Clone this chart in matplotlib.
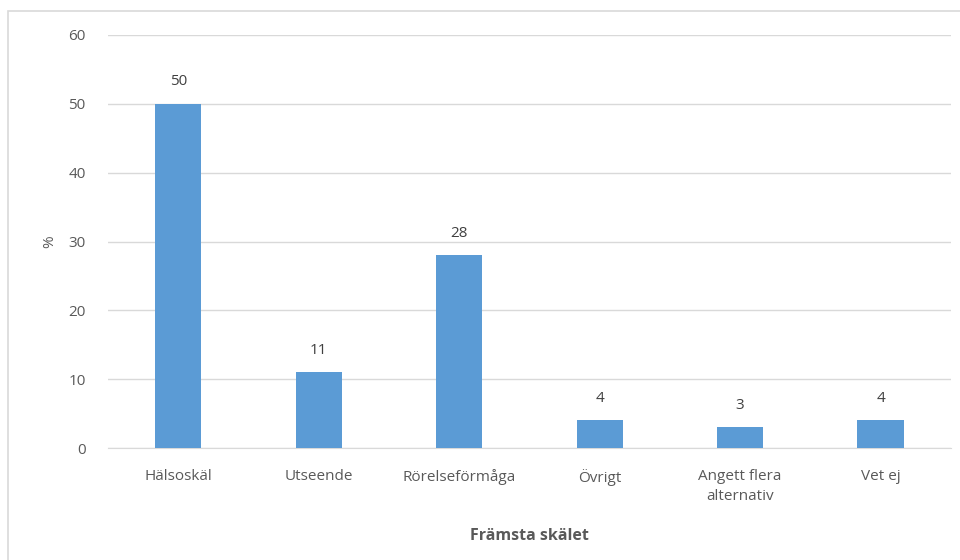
import matplotlib
matplotlib.use("Agg")
import matplotlib.pyplot as plt
from matplotlib.patches import Rectangle

categories = ["Hälsoskäl", "Utseende", "Rörelseförmåga", "Övrigt", "Angett flera\nalternativ", "Vet ej"]
values = [50, 11, 28, 4, 3, 4]
yticks = [0, 10, 20, 30, 40, 50, 60]

bar_color = "#5B9BD5"
text_color = "#595959"
grid_color = "#D9D9D9"

plt.rcParams["font.family"] = ["Open Sans", "DejaVu Sans"]

fig = plt.figure(figsize=(9.6, 5.6), dpi=100)
ax = fig.add_axes([0.1125, 0.2, 0.878, 0.7375])

# outer chart frame (runs off the right and bottom edges)
fig.patches.append(Rectangle((8 / 960, -0.1), 1.2, 1 - 11 / 560 + 0.1,
                             transform=fig.transFigure, fill=False,
                             edgecolor="#D9D9D9", linewidth=1.2))

x = range(len(categories))
bars = ax.bar(x, values, width=0.33, color=bar_color, zorder=3)
for xi, v in zip(x, values):
    ax.text(xi, v + 2.1, str(v), ha="center", va="bottom", fontsize=11, color="#404040")

ax.set_xlim(-0.5, len(categories) - 0.5)
ax.set_ylim(0, 60)
ax.set_yticks(yticks)
ax.set_xticks(list(x))
ax.set_xticklabels(categories, fontsize=11, color=text_color, linespacing=1.5)
ax.tick_params(axis="y", labelsize=11, labelcolor=text_color, length=0, pad=16)
ax.tick_params(axis="x", length=0, pad=15)

ax.grid(axis="y", color=grid_color, linewidth=1, zorder=0)
for side in ["top", "right", "left"]:
    ax.spines[side].set_visible(False)
ax.spines["bottom"].set_color(grid_color)

ax.set_ylabel("%", fontsize=11, color=text_color, labelpad=8)
ax.set_xlabel("Främsta skälet", fontsize=11.5, color=text_color, fontweight="bold", labelpad=17)

fig.savefig("out.png", dpi=100)
